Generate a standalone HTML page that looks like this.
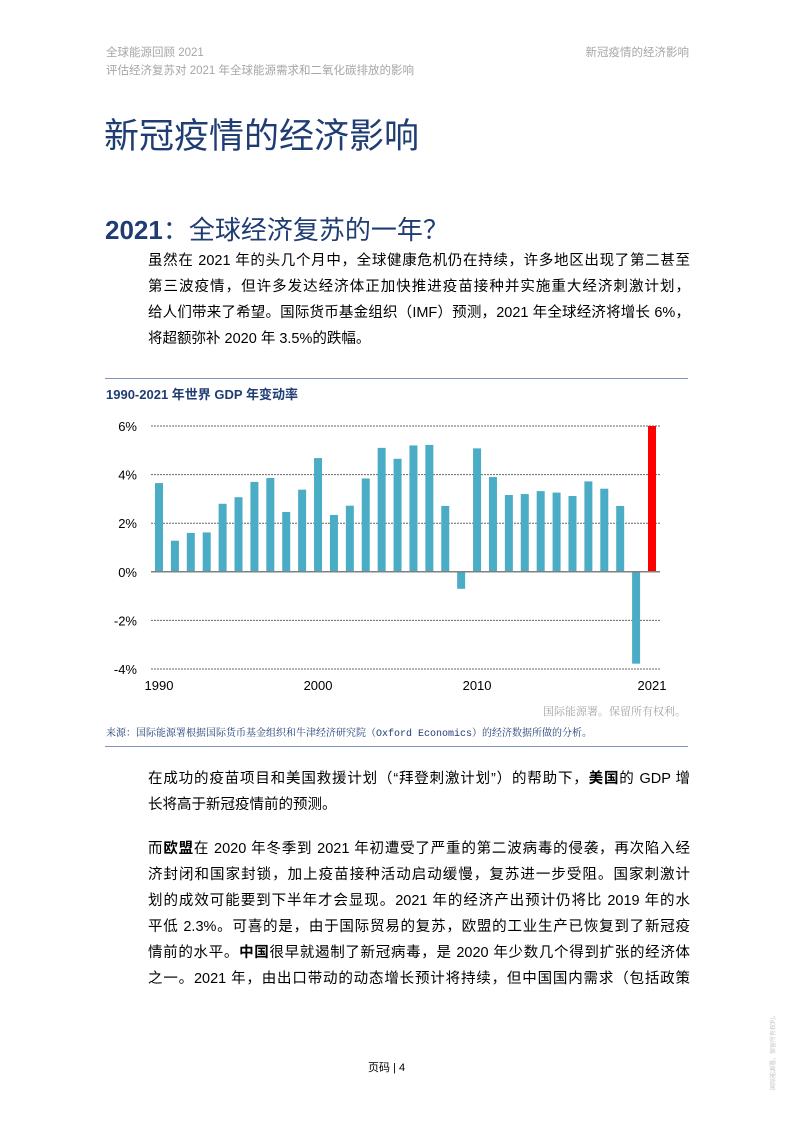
<!DOCTYPE html>
<html><head><meta charset="utf-8">
<style>
html,body{margin:0;padding:0;background:#fff;}
body{width:793px;height:1122px;position:relative;overflow:hidden;font-family:"Liberation Sans","Noto Sans CJK SC",sans-serif;}
.abs{position:absolute;white-space:nowrap;}
.hdr{color:#a6a6a6;font-size:11.5px;}
.line{position:absolute;left:148px;width:542px;font-size:14.5px;color:#000;text-align:justify;text-align-last:justify;white-space:nowrap;}
.line.last{text-align-last:left;}
.navy{color:#1f3d73;}
</style></head><body>
<div class="abs hdr" style="left:106px;top:44px;">全球能源回顾 2021</div>
<div class="abs hdr" style="left:106px;top:62px;">评估经济复苏对 2021 年全球能源需求和二氧化碳排放的影响</div>
<div class="abs hdr" style="right:104px;top:44px;">新冠疫情的经济影响</div>

<div class="abs navy" style="left:104px;top:108px;font-size:35px;">新冠疫情的经济影响</div>
<div class="abs navy" style="left:105px;top:210px;font-size:26px;"><b>2021</b>：全球经济复苏的一年？</div>

<div>
<div class="line" style="top:249px;">虽然在 2021 年的头几个月中，全球健康危机仍在持续，许多地区出现了第二甚至</div>
<div class="line" style="top:275px;">第三波疫情，但许多发达经济体正加快推进疫苗接种并实施重大经济刺激计划，</div>
<div class="line" style="top:301px;">给人们带来了希望。国际货币基金组织（IMF）预测，2021 年全球经济将增长 6%，</div>
<div class="line last" style="top:327px;">将超额弥补 2020 年 3.5%的跌幅。</div>
</div>

<div class="abs" style="left:105px;top:378px;width:583px;height:1px;background:#8096b8;"></div>
<div class="abs navy" style="left:106px;top:384px;font-size:13px;font-weight:bold;">1990-2021 年世界 GDP 年变动率</div>

<svg class="abs" style="left:0;top:0;" width="793" height="1122" id="chart"></svg>

<div class="abs" style="right:107px;top:703px;font-size:11px;color:#a6a6a6;font-family:'Liberation Serif','Noto Serif CJK SC',serif;">国际能源署。保留所有权利。</div>
<div class="abs navy" style="left:106px;top:724px;font-size:10px;font-family:'Liberation Mono','Noto Serif CJK SC',serif;">来源：国际能源署根据国际货币基金组织和牛津经济研究院（Oxford Economics）的经济数据所做的分析。</div>
<div class="abs" style="left:105px;top:746px;width:583px;height:1px;background:#8096b8;"></div>

<div>
<div class="line" style="top:767px;">在成功的疫苗项目和美国救援计划（“拜登刺激计划”）的帮助下，<b>美国</b>的 GDP 增</div>
<div class="line last" style="top:793px;">长将高于新冠疫情前的预测。</div>
</div>
<div>
<div class="line" style="top:837px;">而<b>欧盟</b>在 2020 年冬季到 2021 年初遭受了严重的第二波病毒的侵袭，再次陷入经</div>
<div class="line" style="top:863px;">济封闭和国家封锁，加上疫苗接种活动启动缓慢，复苏进一步受阻。国家刺激计</div>
<div class="line" style="top:889px;">划的成效可能要到下半年才会显现。2021 年的经济产出预计仍将比 2019 年的水</div>
<div class="line" style="top:915px;">平低 2.3%。可喜的是，由于国际贸易的复苏，欧盟的工业生产已恢复到了新冠疫</div>
<div class="line" style="top:941px;">情前的水平。<b>中国</b>很早就遏制了新冠病毒，是 2020 年少数几个得到扩张的经济体</div>
<div class="line" style="top:967px;">之一。2021 年，由出口带动的动态增长预计将持续，但中国国内需求（包括政策</div>
</div>

<div class="abs" style="left:368px;top:1059px;font-size:11px;color:#000;">页码 | 4</div>
<div class="abs" style="left:768px;top:1090px;font-size:6px;color:#c8c8c8;transform:rotate(-90deg);transform-origin:0 0;">国际能源署。保留所有权利。</div>

<script>
const years = [1990,1991,1992,1993,1994,1995,1996,1997,1998,1999,2000,2001,2002,2003,2004,2005,2006,2007,2008,2009,2010,2011,2012,2013,2014,2015,2016,2017,2018,2019,2020,2021];
const gdpGrowth = [3.65,1.28,1.6,1.62,2.8,3.07,3.7,3.86,2.46,3.38,4.68,2.34,2.72,3.84,5.1,4.65,5.2,5.22,2.71,-0.7,5.08,3.9,3.16,3.2,3.32,3.26,3.12,3.72,3.42,2.71,-3.78,6.0];
const yTicks = [6,4,2,0,-2,-4];
const yTickLabels = ["6%","4%","2%","0%","-2%","-4%"];
const xTickYears = [1990,2000,2010,2021];

const NS = "http://www.w3.org/2000/svg";
const svg = document.getElementById("chart");
const x0 = 159, x1 = 652, yTop = 426, yBot = 669, vMax = 6, vMin = -4;
function xScale(yr){ return x0 + (yr - years[0]) * (x1 - x0) / (years[years.length-1] - years[0]); }
function yScale(v){ return yTop + (vMax - v) * (yBot - yTop) / (vMax - vMin); }
function mk(tag, attrs){ const e = document.createElementNS(NS, tag); for (const k in attrs) e.setAttribute(k, attrs[k]); svg.appendChild(e); return e; }

yTicks.forEach((t, i) => {
  const y = yScale(t);
  if (t !== 0) {
    const g = mk("line", {x1:151, x2:660, y1:y, y2:y, stroke:"#666", "stroke-width":1, "stroke-dasharray":"2,1"});
    
    
  }
  const lb = mk("text", {x:137, y:y+5, "text-anchor":"end", "font-size":13, fill:"#000", "font-family":"Liberation Sans, sans-serif"});
  lb.textContent = yTickLabels[i];
  
  
});
const bw = 8;
years.forEach((yr, i) => {
  const v = gdpGrowth[i];
  const y = Math.min(yScale(v), yScale(0));
  const h = Math.abs(yScale(v) - yScale(0));
  const r = mk("rect", {x:xScale(yr)-bw/2, y:y, width:bw, height:h, fill: yr === 2021 ? "#ff0000" : "#4bacc6"});
  
  
});
const ax = mk("line", {x1:151, x2:660, y1:yScale(0), y2:yScale(0), stroke:"#808080", "stroke-width":1.5});


xTickYears.forEach(yr => {
  const t = mk("text", {x:xScale(yr), y:690, "text-anchor":"middle", "font-size":13, fill:"#000", "font-family":"Liberation Sans, sans-serif"});
  t.textContent = yr;
  
  
});
</script>
</body></html>
